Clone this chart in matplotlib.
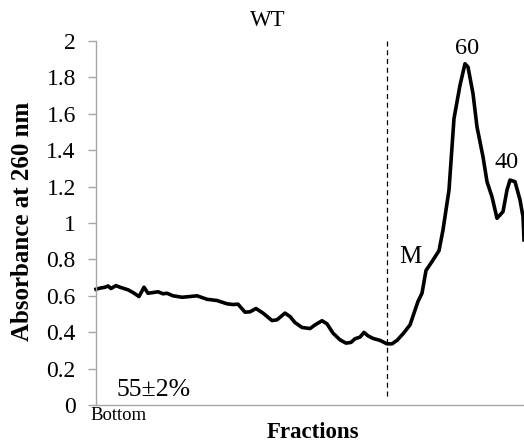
import matplotlib
matplotlib.use("Agg")
import matplotlib.pyplot as plt

# Fraction position (arbitrary units along the gradient, bottom = 0)
fraction_pos = [0, 4, 9, 12, 15, 20, 24, 32, 37, 43, 48, 52, 62, 67, 71, 77,
                86, 94, 101, 111, 121, 131, 137, 142, 149, 154, 160, 167, 176,
                181, 189, 194, 199, 206, 214, 219, 226, 231, 237, 244, 250,
                255, 259, 264, 268, 272, 277, 284, 291, 296, 301, 307, 314,
                322, 326, 330, 336, 343, 347, 353, 358, 364, 369, 372, 377,
                381, 387, 391, 396, 401, 407, 411, 414, 419, 424, 427, 428]
absorbance = [0.636, 0.642, 0.647, 0.654, 0.640, 0.656, 0.647, 0.633, 0.618,
              0.596, 0.647, 0.614, 0.622, 0.611, 0.614, 0.600, 0.592, 0.596,
              0.600, 0.581, 0.574, 0.556, 0.552, 0.554, 0.510, 0.512, 0.530,
              0.505, 0.464, 0.468, 0.505, 0.486, 0.453, 0.426, 0.420, 0.440,
              0.463, 0.446, 0.395, 0.358, 0.340, 0.344, 0.364, 0.373, 0.399,
              0.380, 0.366, 0.355, 0.336, 0.336, 0.355, 0.391, 0.440, 0.569,
              0.614, 0.739, 0.788, 0.848, 0.962, 1.181, 1.574, 1.757, 1.875,
              1.857, 1.711, 1.528, 1.364, 1.227, 1.144, 1.026, 1.062, 1.181,
              1.236, 1.227, 1.127, 1.035, 0.907]

marker_pos = 291          # position of the dashed separator (monosome region)
y_ticks = [0, 0.2, 0.4, 0.6, 0.8, 1, 1.2, 1.4, 1.6, 1.8, 2]
y_tick_labels = ["0", "0.2", "0.4", "0.6", "0.8", "1", "1.2", "1.4", "1.6", "1.8", "2"]

serif = ["Liberation Serif", "DejaVu Serif"]
plt.rcParams["font.family"] = serif

fig = plt.figure(figsize=(5.24, 4.42), dpi=100)
ax = fig.add_axes([96 / 524, 37 / 442, 1 - 96 / 524, 364 / 442])

ax.plot(fraction_pos, absorbance, color="black", lw=2.6, solid_joinstyle="round",
        clip_on=False)
ax.plot([marker_pos, marker_pos], [0.05, 2.0], color="black", lw=0.9,
        linestyle=(0, (4, 3)))

ax.set_xlim(0, 428)
ax.set_ylim(0, 2)
ax.set_yticks(y_ticks)
ax.set_yticklabels(y_tick_labels)
ax.set_xticks([])
for s in ["top", "right"]:
    ax.spines[s].set_visible(False)
for s in ["left", "bottom"]:
    ax.spines[s].set_color("#a6a6a6")
    ax.spines[s].set_linewidth(1.0)
ax.tick_params(axis="y", direction="out", length=6, width=1.0, color="#a6a6a6",
               labelsize=17, pad=8.5)

fig.text(23 / 524, 1 - 221 / 442, "Absorbance at 260 nm", fontsize=18,
         fontweight="bold", rotation=90, ha="center", va="center")
fig.text(313 / 524, 1 - 432 / 442, "Fractions", fontsize=16.5, fontweight="bold",
         ha="center", va="center")
fig.text(268 / 524, 1 - 21 / 442, "WT", fontsize=16.5, ha="center", va="center")
fig.text(90 / 524, 1 - 415 / 442, "Bottom", fontsize=13.5, ha="left", va="center")
fig.text(117 / 524, 1 - 390 / 442, "55±2%", fontsize=18.5, ha="left", va="center")
fig.text(410 / 524, 1 - 257 / 442, "M", fontsize=18, ha="center", va="center")
fig.text(467 / 524, 1 - 48 / 442, "60", fontsize=17.5, ha="center", va="center")
fig.text(507 / 524, 1 - 163 / 442, "40", fontsize=17.5, ha="center", va="center")

fig.savefig("out.png", dpi=100)
